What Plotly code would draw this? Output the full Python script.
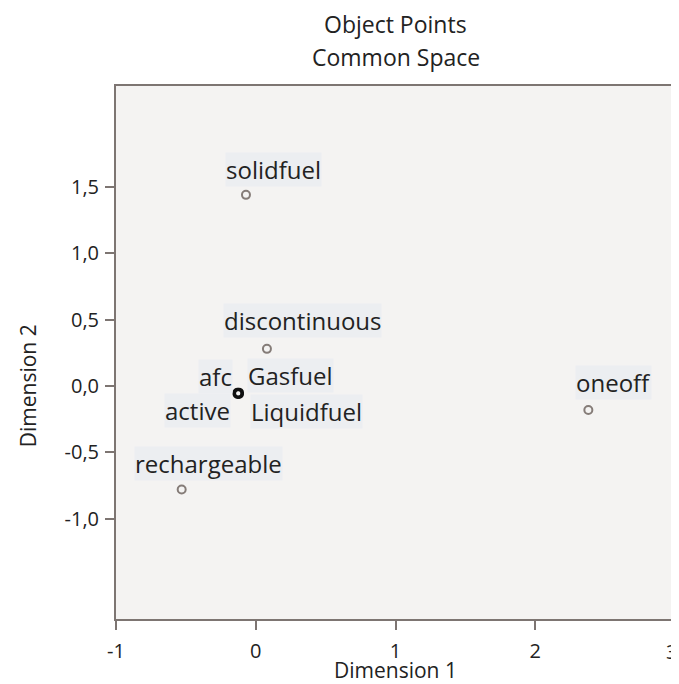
import plotly.graph_objects as go

labels = ["solidfuel", "discontinuous", "afc", "Gasfuel", "active", "Liquidfuel", "oneoff", "rechargeable"]
dim1 = [-0.07, 0.08, -0.13, -0.12, -0.13, -0.12, 2.38, -0.53]
dim2 = [1.44, 0.28, -0.05, -0.05, -0.06, -0.06, -0.18, -0.78]
# label offsets in pixels (dx, dy) relative to the point
label_dx = [28, 36, -22, 52, -40, 68, 25, 27]
label_dy = [25, 28, 16, 17, -17, -18, 27, 26]
marker_colors = ["#857c78", "#857c78", "#111111", "#111111", "#111111", "#111111", "#857c78", "#857c78"]

xticks = [-1, 0, 1, 2]
xticktext = ["-1", "0", "1", "2"]
yticks = [-1.0, -0.5, 0.0, 0.5, 1.0, 1.5]
yticktext = ["-1,0", "-0,5", "0,0", "0,5", "1,0", "1,5"]

FONT = "Open Sans"
TXT = "#222222"

fig = go.Figure()
fig.add_trace(go.Scatter(
    x=dim1, y=dim2, mode="markers",
    marker=dict(symbol="circle-open", size=8, color=marker_colors, line=dict(width=2, color=marker_colors)),
    hoverinfo="text", text=labels, showlegend=False,
))

annotations = []
for lab, x, y, dx, dy in zip(labels, dim1, dim2, label_dx, label_dy):
    annotations.append(dict(
        x=x, y=y, xref="x", yref="y", text=lab, showarrow=False,
        xshift=dx, yshift=dy, font=dict(family=FONT, size=24, color=TXT),
        bgcolor="#eceef1", borderpad=0,
    ))

# last x tick label ("3") sits on the right edge, as in the reference
annotations.append(dict(
    x=3, y=0, xref="x", yref="paper", xanchor="right", xshift=4, yanchor="top", yshift=-17,
    text="3", showarrow=False, font=dict(family=FONT, size=20, color=TXT),
))
annotations.append(dict(
    x=0.5, y=-0.0957, xref="paper", yref="paper", xanchor="center", yanchor="middle",
    text="Dimension 1", showarrow=False, font=dict(family=FONT, size=21, color=TXT),
))
annotations.append(dict(
    x=-0.157, y=0.0, xref="paper", yref="y", xanchor="center", yanchor="middle",
    text="Dimension 2", textangle=-90, showarrow=False, font=dict(family=FONT, size=21, color=TXT),
))
annotations.append(dict(
    x=0.5, y=1.1163, xref="paper", yref="paper", xanchor="center", yanchor="middle",
    text="Object Points", showarrow=False, font=dict(family=FONT, size=23, color=TXT),
))
annotations.append(dict(
    x=0.5, y=1.0544, xref="paper", yref="paper", xanchor="center", yanchor="middle",
    text="Common Space", showarrow=False, font=dict(family=FONT, size=23, color=TXT),
))

# the page body has an 8px margin, so the figure is made 8px smaller and margins shifted
fig.update_layout(
    width=671, height=676,
    margin=dict(l=108, r=4, t=78, b=65),
    paper_bgcolor="white", plot_bgcolor="#f4f3f2",
    annotations=annotations,
    font=dict(family=FONT, color=TXT),
)
fig.update_xaxes(
    range=[-1, 3], tickvals=xticks, ticktext=xticktext, showgrid=False, zeroline=False,
    showline=True, linecolor="#7d7572", linewidth=2, mirror=True,
    ticks="outside", ticklen=9, tickwidth=2, tickcolor="#7d7572", ticklabelstandoff=4,
    tickfont=dict(family=FONT, size=20, color=TXT), automargin=False,
)
fig.update_yaxes(
    range=[-1.755, 2.26], tickvals=yticks, ticktext=yticktext, showgrid=False, zeroline=False,
    showline=True, linecolor="#7d7572", linewidth=2, mirror=True,
    ticks="outside", ticklen=9, tickwidth=2, tickcolor="#7d7572", ticklabelstandoff=2,
    tickfont=dict(family=FONT, size=20, color=TXT), automargin=False,
)

fig.write_html("out.html")
